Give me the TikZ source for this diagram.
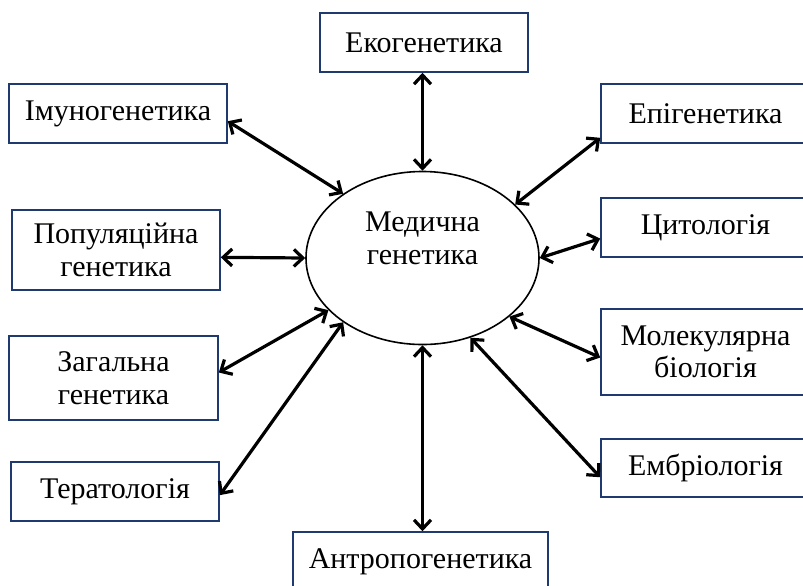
\documentclass[tikz,border=0pt]{standalone}
\usepackage{fontspec}
\setmainfont{Liberation Serif}
\usepackage{tikz}
\usetikzlibrary{arrows.meta, shapes.geometric, positioning}
\definecolor{boxblue}{HTML}{1F3A6E}
\tikzset{>={Straight Barb[length=4.5pt,width=8.5pt]}}
\tikzset{
  box/.style={draw=boxblue, line width=0.8pt, align=center, inner sep=2pt,
    minimum height=29.5pt, font=\fontsize{15}{16.3}\selectfont},
  hub/.style={draw, ellipse, line width=0.8pt, align=center, inner sep=0pt,
    minimum width=116.5pt, minimum height=86.5pt, text depth=20pt,
    font=\fontsize{15}{16.3}\selectfont},
  arr/.style={<->, line width=1.6pt}
}

\begin{document}
\begin{tikzpicture}[x=0.5pt, y=-0.5pt]
\path[use as bounding box] (0,0) rectangle (803,585);
\clip (0,0) rectangle (803,585);

\node[hub] (M) at (422.5,258) {Медична\\генетика};

\node[box, minimum width=104pt] (A) at (424,42.5) {Екогенетика};
\node[box, minimum width=104.5pt] (B) at (705.5,113.5) {Епігенетика};
\node[box, minimum width=104.5pt] (C) at (705.5,227.5) {Цитологія};
\node[box, minimum width=104.5pt, minimum height=43pt] (D) at (705.5,352) {Молекулярна\\біологія};
\node[box, minimum width=104.5pt, minimum height=29pt] (E) at (705.5,468) {Ембріологія};
\node[box, minimum width=127.5pt] (F) at (420.5,561.5) {Антропогенетика};
\node[box, minimum width=104pt] (G) at (115,491.5) {Тератологія};
\node[box, minimum width=104.5pt, minimum height=42pt] (H) at (113.5,378) {Загальна\\генетика};
\node[box, minimum width=104pt, minimum height=40pt] (I) at (116,250) {Популяційна\\генетика};
\node[box, minimum width=109pt] (J) at (118,113.5) {Імуногенетика};

\draw[arr] (A.south -| M.north) -- (M.north);
\draw[arr] (B.193) -- (M.30);
\draw[arr] (C.186) -- (M.east);
\draw[arr] (D.183) -- (M.-34);
\draw[arr] (E.185) -- (M.-59.5);
\draw[arr] (F.north -| M.south) -- (M.south);
\draw[arr] (G.-2) -- (M.-141.7);
\draw[arr] (H.3) -- (M.209.3);
\draw[arr] (I.-4) -- (M.west);
\draw[arr] (J.-4) -- (M.141.6);

\end{tikzpicture}
\end{document}
